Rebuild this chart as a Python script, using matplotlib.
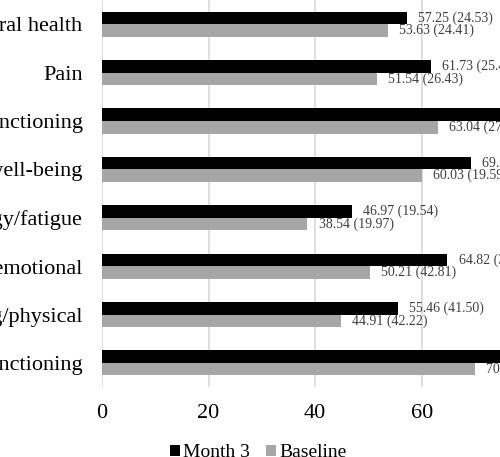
import matplotlib.pyplot as plt
import numpy as np

plt.rcParams['font.family'] = ['Liberation Serif', 'DejaVu Serif']

# Domains (bottom to top)
domains = ['Physical functioning', 'Role functioning/physical', 'Role functioning/emotional',
           'Energy/fatigue', 'Emotional well-being', 'Social functioning', 'Pain', 'General health']

# Mean scores (SD); values off the right edge are estimates
month3 = [80.10, 55.46, 64.82, 46.97, 69.20, 78.50, 61.73, 57.25]
month3_sd = [22.10, 41.50, 39.80, 19.54, 17.90, 25.60, 25.40, 24.53]
baseline = [70.05, 44.91, 50.21, 38.54, 60.03, 63.04, 51.54, 53.63]
baseline_sd = [25.30, 42.22, 42.81, 19.97, 19.59, 27.80, 26.43, 24.41]

fig = plt.figure(figsize=(5, 4.57), dpi=100)
ax = fig.add_axes([0.204, 0.153, 1.066, 0.847])

y = np.arange(len(domains))
h = 0.26
ax.barh(y + h / 2, month3, height=h, color='black', label='Month 3', zorder=3)
ax.barh(y - h / 2, baseline, height=h, color='#a6a6a6', label='Baseline', zorder=3)

# value labels
for i in range(len(domains)):
    ax.annotate(f'{month3[i]:.2f} ({month3_sd[i]:.2f})', (month3[i], y[i] + h / 2),
                xytext=(8, 0), textcoords='offset points', va='center', ha='left',
                fontsize=10, color='#404040')
    ax.annotate(f'{baseline[i]:.2f} ({baseline_sd[i]:.2f})', (baseline[i], y[i] - h / 2),
                xytext=(8, 0), textcoords='offset points', va='center', ha='left',
                fontsize=10, color='#404040')

ax.set_xlim(0, 100)
ax.set_ylim(-0.5, 7.5)
ax.set_xticks([0, 20, 40, 60, 80, 100])
ax.set_yticks(y)
ax.set_yticklabels(domains)
ax.tick_params(axis='x', length=0, pad=12, labelsize=16)
ax.tick_params(axis='y', length=0, pad=14, labelsize=16)
ax.grid(axis='x', color='#d9d9d9', linewidth=1.2, zorder=0)
for s in ax.spines.values():
    s.set_visible(False)

fig.legend(loc='center', bbox_to_anchor=(0.516, 0.009), ncol=2, frameon=False,
           fontsize=14, handlelength=0.55, handleheight=0.55, handletextpad=0.15,
           columnspacing=0.8)

fig.savefig('out.png', dpi=100)
